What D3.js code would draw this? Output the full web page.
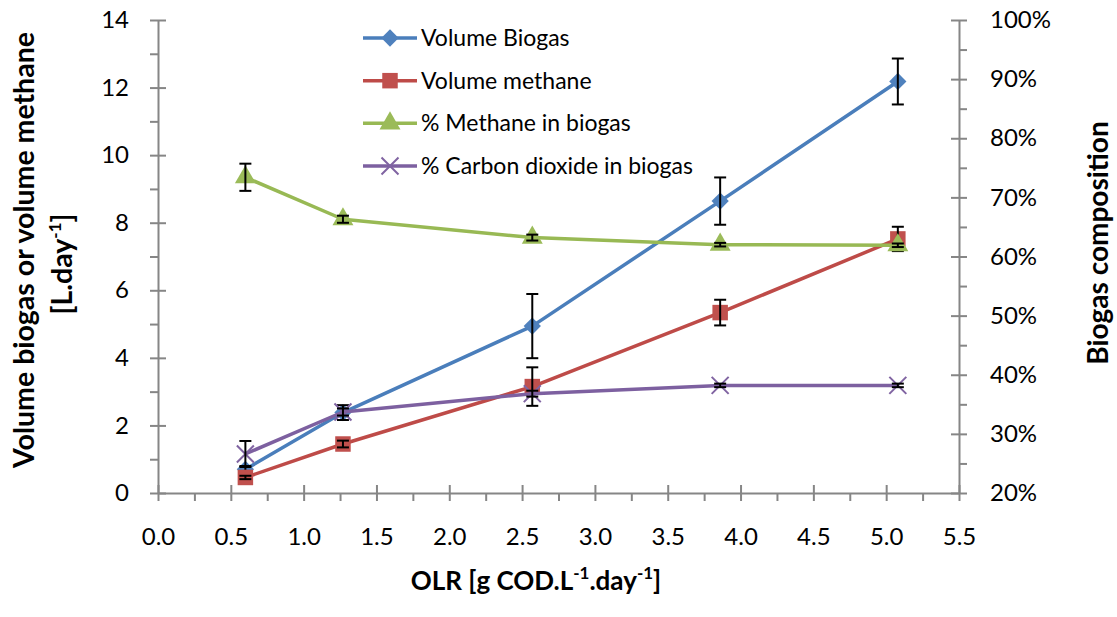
<!DOCTYPE html>
<html>
<head>
<meta charset="utf-8">
<script src="https://cdnjs.cloudflare.com/ajax/libs/d3/7.8.5/d3.min.js"></script>
<style>
  body { margin: 0; background: #fff; }
  text { font-family: Lato, "Open Sans", sans-serif; }
  .axis path, .axis line { stroke: #868686; stroke-width: 2; }
  .axis text { fill: #000; font-size: 24px; }
</style>
</head>
<body>
<script>
// OLR, g COD.L-1.day-1
var olr = [0.60, 1.27, 2.57, 3.86, 5.08];

// left axis series, L.day-1
var volBiogas = [0.70, 2.38, 4.94, 8.64, 12.18];
var errBiogas = [0.10, 0.22, 0.95, 0.70, 0.68];
var volMethane = [0.46, 1.45, 3.15, 5.34, 7.52];
var errMethane = [0.05, 0.10, 0.57, 0.38, 0.36];

// right axis series, %
var pctMethane = [73.4, 66.3, 63.2, 62.0, 61.9];
var errPctMethane = [2.3, 0.6, 0.5, 0.3, 0.3];
var pctCO2 = [26.6, 33.7, 36.8, 38.2, 38.2];
var errPctCO2 = [2.2, 0.6, 0.5, 0.3, 0.3];

var seriesNames = ["Volume Biogas", "Volume methane", "% Methane in biogas", "% Carbon dioxide in biogas"];

var xTicks = d3.range(0, 5.51, 0.5);
var yTicks = d3.range(0, 14.1, 2);
var y2Ticks = d3.range(20, 100.1, 10);

var width = 1117, height = 617;
var svg = d3.select("body").append("svg")
            .attr("width", width)
            .attr("height", height);

var x = d3.scaleLinear().domain([0, 5.5]).range([158, 959]);
var y = d3.scaleLinear().domain([0, 14]).range([493, 20]);
var y2 = d3.scaleLinear().domain([20, 100]).range([493, 20]);

// minor tick positions halfway between majors
function halves(t) {
  var out = [];
  for (var i = 0; i < t.length - 1; i++) out.push((t[i] + t[i + 1]) / 2);
  return out;
}

function clean(g) { g.selectAll(".domain").remove(); }

// x axis
svg.append("g").attr("class", "axis").attr("transform", "translate(0,493)")
   .call(d3.axisBottom(x).tickValues(xTicks).tickSize(8).tickSizeOuter(0).tickPadding(27).tickFormat(d3.format(".1f")));
svg.append("g").attr("class", "axis").attr("transform", "translate(0,493)")
   .call(d3.axisBottom(x).tickValues(xTicks).tickSize(-8).tickFormat("")).call(clean);
svg.append("g").attr("class", "axis").attr("transform", "translate(0,493)")
   .call(d3.axisBottom(x).tickValues(halves(xTicks)).tickSize(8).tickFormat("")).call(clean);

// left axis
svg.append("g").attr("class", "axis").attr("transform", "translate(158,0)")
   .call(d3.axisLeft(y).tickValues(yTicks).tickSize(8).tickSizeOuter(0).tickPadding(21).tickFormat(d3.format("d")));
svg.append("g").attr("class", "axis").attr("transform", "translate(158,0)")
   .call(d3.axisLeft(y).tickValues(yTicks).tickSize(-8).tickFormat("")).call(clean);
svg.append("g").attr("class", "axis").attr("transform", "translate(158,0)")
   .call(d3.axisLeft(y).tickValues(halves(yTicks)).tickSize(8).tickFormat("")).call(clean);

// right axis
svg.append("g").attr("class", "axis").attr("transform", "translate(959,0)")
   .call(d3.axisRight(y2).tickValues(y2Ticks).tickSize(8).tickSizeOuter(0).tickPadding(23).tickFormat(function(d) { return d + "%"; }));
svg.append("g").attr("class", "axis").attr("transform", "translate(959,0)")
   .call(d3.axisRight(y2).tickValues(y2Ticks).tickSize(-8).tickFormat("")).call(clean);
svg.append("g").attr("class", "axis").attr("transform", "translate(959,0)")
   .call(d3.axisRight(y2).tickValues(halves(y2Ticks)).tickSize(8).tickFormat("")).call(clean);

var symTimes = d3.symbolTimes || d3.symbolX;
var styles = [
  {line: "#4A7EBB", fill: "#4F81BD", sym: d3.symbolDiamond2, size: 190, stroke: false},
  {line: "#BE4B48", fill: "#C0504D", sym: d3.symbolSquare, size: 240, stroke: false},
  {line: "#98B954", fill: "#9BBB59", sym: d3.symbolTriangle, size: 190, stroke: false},
  {line: "#7D60A0", fill: "#8064A2", sym: symTimes, size: 190, stroke: true}
];

function drawMarker(g, st, cx, cy) {
  var p = g.append("path")
           .attr("d", d3.symbol().type(st.sym).size(st.size)())
           .attr("transform", "translate(" + cx + "," + cy + ")");
  if (st.stroke) p.attr("fill", "none").attr("stroke", st.fill).attr("stroke-width", 2);
  else p.attr("fill", st.fill);
}

function drawSeries(vals, errs, yScale, st) {
  var g = svg.append("g");
  var line = d3.line()
               .x(function(d, i) { return x(olr[i]); })
               .y(function(d) { return yScale(d); });
  g.append("path")
   .attr("d", line(vals))
   .attr("fill", "none")
   .attr("stroke", st.line)
   .attr("stroke-width", 3.5)
   .attr("stroke-linejoin", "round");

  for (var i = 0; i < vals.length; i++) {
    drawMarker(g, st, x(olr[i]), yScale(vals[i]));
  }

  for (var i = 0; i < vals.length; i++) {
    var cx = x(olr[i]);
    var top = yScale(vals[i] + errs[i]), bot = yScale(vals[i] - errs[i]);
    g.append("line").attr("x1", cx).attr("x2", cx).attr("y1", top).attr("y2", bot)
     .attr("stroke", "#000").attr("stroke-width", 2);
    [top, bot].forEach(function(yy) {
      g.append("line").attr("x1", cx - 6).attr("x2", cx + 6).attr("y1", yy).attr("y2", yy)
       .attr("stroke", "#000").attr("stroke-width", 2);
    });
  }
}

drawSeries(volBiogas, errBiogas, y, styles[0]);
drawSeries(volMethane, errMethane, y, styles[1]);
drawSeries(pctMethane, errPctMethane, y2, styles[2]);
drawSeries(pctCO2, errPctCO2, y2, styles[3]);

// legend
var legRow = d3.scalePoint().domain(seriesNames).range([38, 166]);
var leg = svg.append("g");
seriesNames.forEach(function(name, i) {
  var ly = legRow(name);
  leg.append("line").attr("x1", 363).attr("x2", 417).attr("y1", ly).attr("y2", ly)
     .attr("stroke", styles[i].line).attr("stroke-width", 3.5);
  drawMarker(leg, styles[i], 390, ly);
  leg.append("text").attr("x", 421).attr("y", ly).attr("dy", "0.35em")
     .attr("font-size", "23px").text(name);
});

// axis titles, with raised "-1" exponents
function supText(t, parts) {
  var back = 0;
  parts.forEach(function(p) {
    if (p.sup) {
      t.append("tspan").attr("font-size", "17px").attr("dy", -11).text(p.s);
      back = 11;
    } else {
      t.append("tspan").attr("dy", back).text(p.s);
      back = 0;
    }
  });
}

svg.append("text")
   .attr("transform", "translate(34,250) rotate(-90)")
   .attr("text-anchor", "middle").attr("font-weight", "bold").attr("font-size", "28.5px")
   .text("Volume biogas or volume methane");

var t2 = svg.append("text")
   .attr("transform", "translate(72,264) rotate(-90)")
   .attr("text-anchor", "middle").attr("font-weight", "bold").attr("font-size", "28.5px");
supText(t2, [{s: "[L.day"}, {s: "-1", sup: true}, {s: "]"}]);

svg.append("text")
   .attr("transform", "translate(1108,243) rotate(-90)")
   .attr("text-anchor", "middle").attr("font-weight", "bold").attr("font-size", "28px")
   .text("Biogas composition");

var tx = svg.append("text")
   .attr("x", 536).attr("y", 590)
   .attr("text-anchor", "middle").attr("font-weight", "bold").attr("font-size", "26px");
supText(tx, [{s: "OLR [g COD.L"}, {s: "-1", sup: true}, {s: ".day"}, {s: "-1", sup: true}, {s: "]"}]);
</script>
</body>
</html>
